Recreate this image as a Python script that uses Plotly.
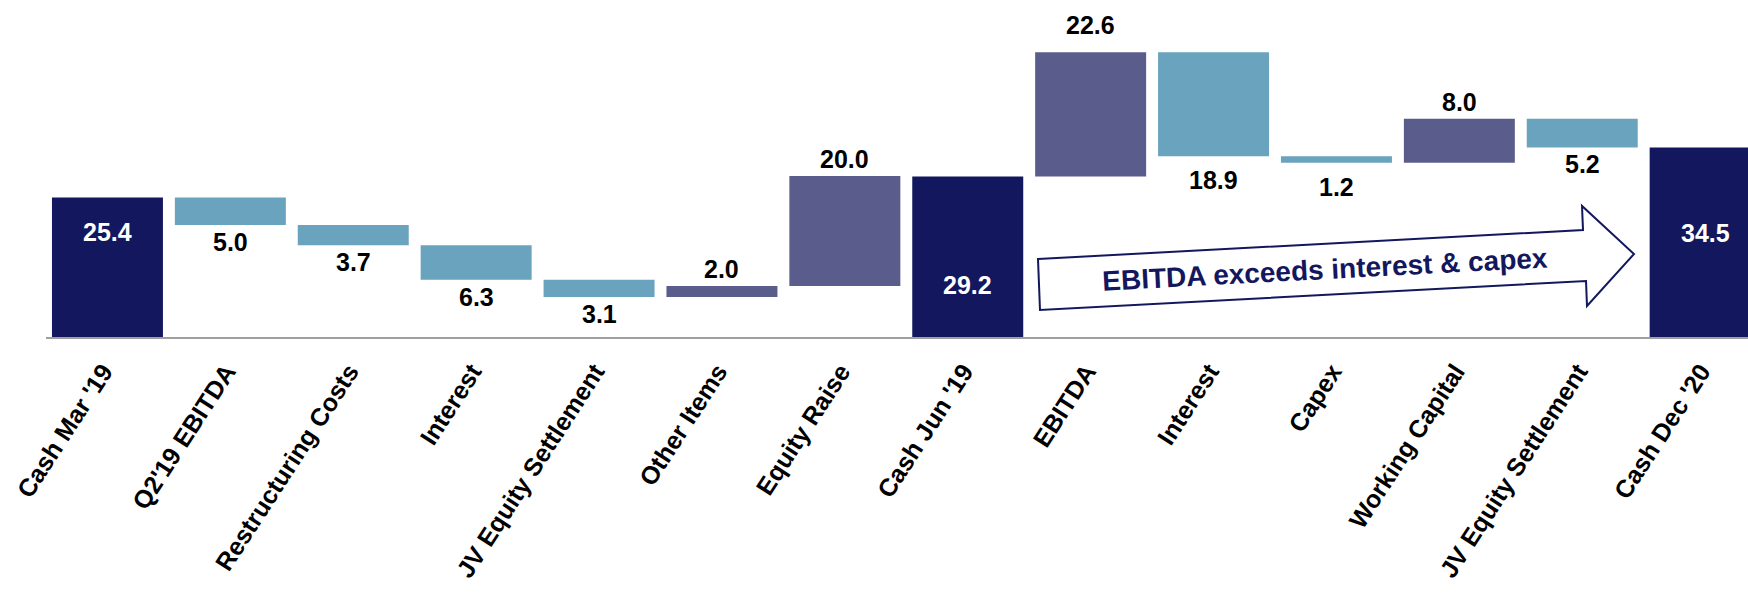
import plotly.graph_objects as go

# ---------------- data ----------------
categories = ["Cash Mar '19", "Q2'19 EBITDA", "Restructuring Costs", "Interest",
              "JV Equity Settlement", "Other Items", "Equity Raise", "Cash Jun '19",
              "EBITDA", "Interest", "Capex", "Working Capital",
              "JV Equity Settlement", "Cash Dec '20"]
measures = ["absolute", "relative", "relative", "relative", "relative", "relative",
            "relative", "absolute", "relative", "relative", "relative", "relative",
            "relative", "absolute"]
values = [25.4, -5.0, -3.7, -6.3, -3.1, 2.0, 20.0, 29.2, 22.6, -18.9, -1.2, 8.0, -5.2, 34.5]
arrow_text = "EBITDA exceeds interest & capex"

# ---------------- style ----------------
NAVY = "#13175E"
PURPLE = "#5A5C8C"
LBLUE = "#6AA3BE"
FONT = "Liberation Sans, Arial, sans-serif"
W, H = 1748, 597
ML, MR, MT, MB = 46, 0, 0, 260
PX_PER_CAT = 122.9
PX_PER_UNIT = 5.495
plot_w = W - ML - MR
plot_h = H - MT - MB

x_idx = list(range(len(categories)))

fig = go.Figure()
fig.add_trace(go.Waterfall(
    x=x_idx, y=values, measure=measures,
    increasing=dict(marker=dict(color=PURPLE)),
    decreasing=dict(marker=dict(color=LBLUE)),
    totals=dict(marker=dict(color=NAVY)),
    connector=dict(visible=False),
    textinfo="none", hoverinfo="skip",
))

# value labels (positions derived from running totals)
total_label_frac = {0: 0.752, 7: 0.324, 13: 0.549}
extra_nudge = {8: 10, 9: 7, 10: 7}
annotations = []
run = 0.0
for i, (m, v) in enumerate(zip(measures, values)):
    if m == "absolute":
        run = v
        annotations.append(dict(x=i, y=v * total_label_frac.get(i, 0.6), xref="x", yref="y",
                                text=f"<b>{v:.1f}</b>", showarrow=False,
                                xanchor="center", yanchor="middle",
                                font=dict(family=FONT, size=25, color="white")))
    else:
        run = run + v
        shift = 17 + extra_nudge.get(i, 0)
        annotations.append(dict(x=i, y=run, xref="x", yref="y", text=f"<b>{abs(v):.1f}</b>",
                                showarrow=False, xanchor="center", yanchor="middle",
                                yshift=shift if v >= 0 else -shift,
                                font=dict(family=FONT, size=25, color="black")))

# arrow callout (decoration, pixel positions converted to paper coords)
def px2paper(px, py):
    return (px - ML) / plot_w, (MT + plot_h - py) / plot_h

arrow_pts = [(1038, 259), (1583, 230), (1582, 206), (1634, 254), (1587, 306), (1586, 281), (1040, 310)]
path = "M " + " L ".join("{:.5f},{:.5f}".format(*px2paper(a, b)) for a, b in arrow_pts) + " Z"
fig.add_shape(type="path", path=path, xref="paper", yref="paper",
              line=dict(color=NAVY, width=2), fillcolor="white", layer="above")
tx, ty = px2paper(1325, 269)
annotations.append(dict(x=tx, y=ty, xref="paper", yref="paper", text=f"<b>{arrow_text}</b>",
                        showarrow=False, textangle=-3, xanchor="center", yanchor="middle",
                        font=dict(family=FONT, size=28, color=NAVY)))

x_lo = -0.5
x_hi = x_lo + plot_w / PX_PER_CAT
y_hi = plot_h / PX_PER_UNIT

fig.update_layout(
    width=W, height=H,
    margin=dict(l=ML, r=MR, t=MT, b=MB, pad=0),
    paper_bgcolor="white", plot_bgcolor="white",
    showlegend=False,
    waterfallgap=0.097,
    annotations=annotations,
    font=dict(family=FONT),
    xaxis=dict(range=[x_lo, x_hi], tickmode="array", tickvals=x_idx,
               ticktext=[f"<b>{c}</b>" for c in categories],
               tickangle=-57, tickfont=dict(family=FONT, size=25, color="black"),
               ticklabelstandoff=8, ticklabelshift=-4,
               showgrid=False, zeroline=False, showline=True, linecolor="#A0A0A0",
               linewidth=2, ticks="", automargin=False, fixedrange=True),
    yaxis=dict(range=[0, y_hi], visible=False, showgrid=False, zeroline=False,
               automargin=False, fixedrange=True),
)

fig.write_html("out.html", config={"displayModeBar": False},
               post_script="document.body.style.margin='0';document.body.style.padding='0';")
